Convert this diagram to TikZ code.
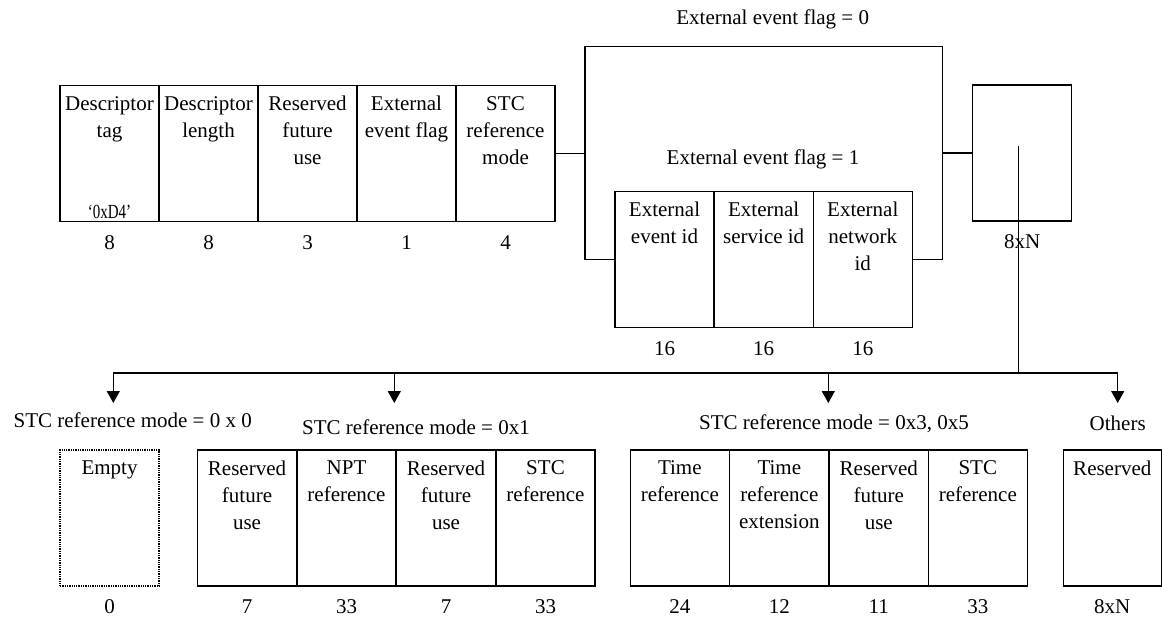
\documentclass[tikz,border=0pt]{standalone}
\usepackage{fontspec}
\setmainfont{Liberation Serif}
\usetikzlibrary{arrows.meta}
\tikzset{
  field/.style={draw, minimum width=99pt, minimum height=136pt, inner sep=0pt},
  fieldtext/.style={anchor=north, align=center, inner sep=0pt, yshift=-10.7pt},
  bits/.style={anchor=north, inner sep=0pt, yshift=-12.6pt},
  down/.style={-{Triangle[width=13pt,length=12pt]}},
}
\begin{document}
\begin{tikzpicture}[x=1pt, y=-1pt, line width=1.3pt, font=\fontsize{21}{27}\selectfont]
  \useasboundingbox (0,0) rectangle (1162,619);
  % descriptor header
  \foreach \n/\x/\lab/\b in {dtag/109.5/{Descriptor\\tag}/8, dlen/208.5/{Descriptor\\length}/8,
      rfu/307.5/{Reserved\\future\\use}/3, eflag/406.5/{External\\event flag}/1,
      mode/505.5/{STC\\reference\\mode}/4}
  {
    \node[field] (\n) at (\x,153.5) {};
    \node[fieldtext] at (\n.north) {\lab};
    \node[bits] at (\n.south) {\b};
  }
  \node[font=\fontsize{20}{22}\selectfont, transform shape, xscale=0.75] (tagval)
    at ([yshift=10pt]dtag.south) {‘0xD4’};
  % external ids (flag = 1)
  \foreach \n/\x/\lab in {evid/664.5/{External\\event id}, svid/763.7/{External\\service id},
      nwid/862.8/{External\\network\\id}}
  {
    \node[field] (\n) at (\x,259.7) {};
    \node[fieldtext] at (\n.north) {\lab};
    \node[bits] at (\n.south) {16};
  }
  \node (flag0) at (772.7,19) {External event flag = 0};
  \node (flag1) at (763,159) {External event flag = 1};
  % private data loop
  \node[field] (loop) at (1022.2,153) {};
  \node[bits] (loopbits) at (loop.south) {8xN};
  % bracket round the flag alternatives
  \coordinate (bl) at (585,46.7);
  \coordinate (br) at (942.7,46.7);
  \draw (mode.east) -- (mode.east -| bl);
  \draw (evid.west) -| (bl) -- (br) |- (nwid.east);
  \draw (br |- loop.west) -- (loop.west);
  % branch to the reference modes
  \coordinate (split) at (1018.3,146);
  \coordinate (bus) at (1018.3,373);
  \foreach \n/\x in {a0/113.3, a1/394.3, a2/828.3, a3/1117.7}
    \coordinate (\n) at (\x,403);
  \draw (split) -- (bus);
  \draw (a0 |- bus) -- (a3 |- bus);
  \foreach \n in {a0,a1,a2,a3}
    \draw[down] (\n |- bus) -- (\n);
  \node (m0) at (132.7,420) {STC reference mode = 0 x 0};
  \node (m1) at (416,427) {STC reference mode = 0x1};
  \node (m35) at (834,424) {STC reference mode = 0x3, 0x5};
  \node (mother) at (1117.7,423) {Others};
  % mode 0x0
  \node[field, densely dotted] (empty) at (109.5,518) {};
  \node[fieldtext] at (empty.north) {Empty};
  \node[bits] at (empty.south) {0};
  % mode 0x1
  \foreach \n/\x/\lab/\b in {rfua/247/{Reserved\\future\\use}/7, npt/346.5/{NPT\\reference}/33,
      rfub/446/{Reserved\\future\\use}/7, stca/545.5/{STC\\reference}/33}
  {
    \node[field] (\n) at (\x,518) {};
    \node[fieldtext] at (\n.north) {\lab};
    \node[bits] at (\n.south) {\b};
  }
  % mode 0x3, 0x5
  \foreach \n/\x/\lab/\b in {tref/679.8/{Time\\reference}/24, text/779.3/{Time\\reference\\extension}/12,
      rfuc/878.8/{Reserved\\future\\use}/11, stcb/977.8/{STC\\reference}/33}
  {
    \node[field] (\n) at (\x,518) {};
    \node[fieldtext] at (\n.north) {\lab};
    \node[bits] at (\n.south) {\b};
  }
  % other modes
  \node[field, minimum width=98pt] (resv) at (1112.3,518) {};
  \node[fieldtext] at (resv.north) {Reserved};
  \node[bits] at (resv.south) {8xN};
\end{tikzpicture}
\end{document}
